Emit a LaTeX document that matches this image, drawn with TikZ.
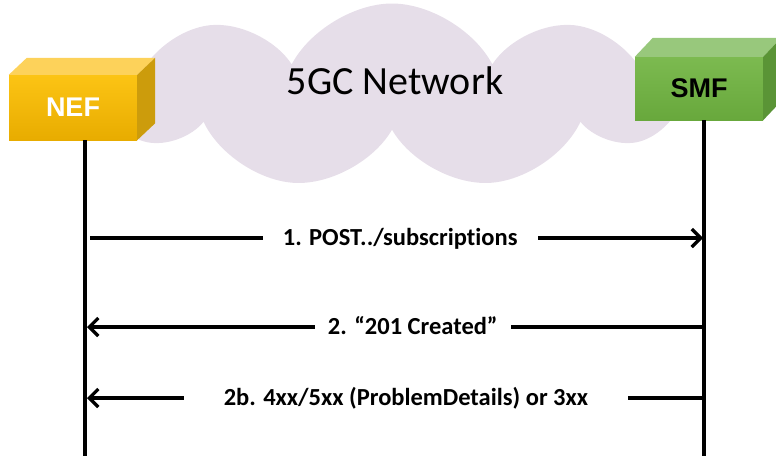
\documentclass[tikz,border=0pt]{standalone}
\usepackage{fontspec}
\setmainfont[Ligatures=NoCommon]{Carlito}
\newfontfamily\boxfont{Liberation Sans}
\usetikzlibrary{shapes.symbols,arrows.meta}
\definecolor{cloudfill}{RGB}{230,222,233}
\definecolor{nefFront}{RGB}{252,196,20}
\definecolor{nefLow}{RGB}{232,172,0}
\definecolor{nefTop}{RGB}{253,210,90}
\definecolor{nefSide}{RGB}{204,156,12}
\definecolor{smfFront}{RGB}{124,186,80}
\definecolor{smfLow}{RGB}{104,168,60}
\definecolor{smfTop}{RGB}{152,200,124}
\definecolor{smfSide}{RGB}{90,148,54}

\begin{document}
\begin{tikzpicture}[x=1pt, y=-1pt,
    nf/.style={rectangle, inner sep=0pt, minimum width=128pt, font=\boxfont\bfseries\fontsize{27}{30}\selectfont},
    lifeline/.style={line width=3.2pt},
    msg/.style={line width=3.2pt, -{Straight Barb[length=9pt, width=18pt]}},
    lbl/.style={fill=white, font=\bfseries\fontsize{24.5}{28}\selectfont, text height=15pt, text depth=0pt, inner ysep=9pt}
]
    \useasboundingbox (0,0) rectangle (776,456);

    \node[cloud, cloud puffs=9, cloud puff arc=125, aspect=2.9, fill=cloudfill, minimum width=565pt, minimum height=185pt, inner sep=0pt] (net) at (392,96) {};
    \node[font=\fontsize{40}{44}\selectfont] (netname) at (395,81) {5GC Network};

    \node[nf, minimum height=65pt, top color=nefFront, bottom color=nefLow, text=white] (nef) at (73,107.5) {NEF};
    \fill[nefTop] (nef.north west) -- ++(18,-17) -- ([shift={(18,-17)}]nef.north east) -- (nef.north east) -- cycle;
    \fill[nefSide] (nef.north east) -- ++(18,-17) -- ([shift={(18,-17)}]nef.south east) -- (nef.south east) -- cycle;

    \node[nf, minimum height=63pt, top color=smfFront, bottom color=smfLow, text=black] (smf) at (699,88.5) {SMF};
    \fill[smfTop] (smf.north west) -- ++(18,-19) -- ([shift={(18,-19)}]smf.north east) -- (smf.north east) -- cycle;
    \fill[smfSide] (smf.north east) -- ++(18,-19) -- ([shift={(18,-19)}]smf.south east) -- (smf.south east) -- cycle;

    \coordinate (nefEnd) at (85,456);
    \coordinate (smfEnd) at (704,456);
    \draw[lifeline] ([xshift=12pt]nef.south) -- (nefEnd);
    \draw[lifeline] ([xshift=5pt]smf.south) -- (smfEnd);

    \coordinate (n1) at (90,238);
    \coordinate (s1) at (703,238);
    \coordinate (n2) at (87,327);
    \coordinate (s2) at (704,327);
    \coordinate (n3) at (87,398);
    \coordinate (s3) at (704,398);

    \draw[msg] (n1) -- (s1) node[lbl, inner xsep=20pt, pos=0.506] (post) {1. POST../subscriptions};
    \draw[msg] (s2) -- (n2) node[lbl, inner xsep=13pt, pos=0.472] (created) {2. “201 Created”};
    \draw[msg] (s3) -- (n3) node[lbl, inner xsep=40pt, pos=0.483] (problem) {2b. 4xx/5xx (ProblemDetails) or 3xx};
\end{tikzpicture}
\end{document}
